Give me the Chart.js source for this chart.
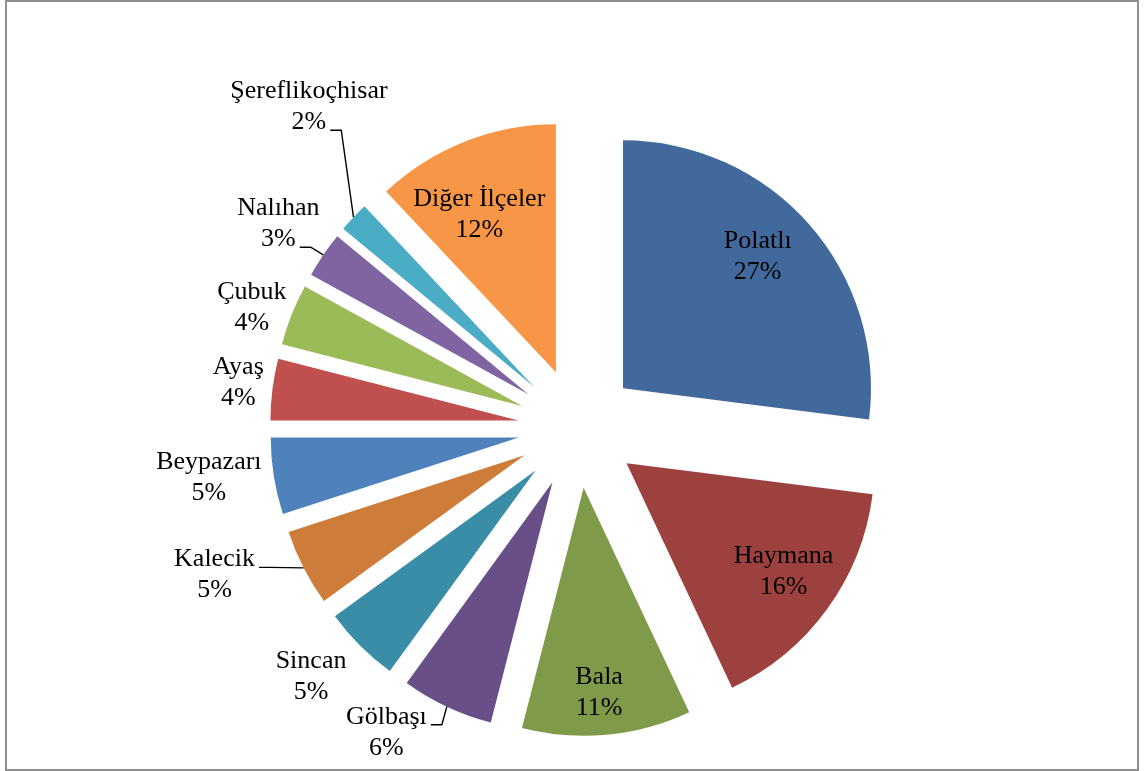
<!DOCTYPE html>
<html>
<head>
<meta charset="utf-8">
<title>İlçelere göre dağılım</title>
<script src="https://cdn.jsdelivr.net/npm/chart.js@4.4.0/dist/chart.umd.min.js"></script>
<style>
  html, body { margin: 0; padding: 0; background: #fff; }
  #frame { position: absolute; left: 5px; top: 0; width: 1134px; height: 771px;
           box-sizing: border-box; border: 2px solid #8e8e8e; }
  #wrap { position: absolute; left: 0; top: 0; width: 1146px; height: 771px; }
</style>
</head>
<body>
<div id="frame"></div>
<div id="wrap"><canvas id="pieChart" width="1146" height="771"></canvas></div>
<script>
const districts = ["Polatlı", "Haymana", "Bala", "Gölbaşı", "Sincan", "Kalecik",
                   "Beypazarı", "Ayaş", "Çubuk", "Nalıhan", "Şereflikoçhisar", "Diğer İlçeler"];
const shares = [27, 16, 11, 6, 5, 5, 5, 4, 4, 3, 2, 12];
const sliceColors = ["#41699C", "#9D413F", "#7F9B4A", "#694F87", "#3A8DA6", "#CE7C39",
                     "#4F81BD", "#C0504D", "#9BBB59", "#8064A2", "#4BACC6", "#F79646"];

// where each label sits: distance from the slice tip (x radius) and a turn in degrees
const labelDist = [0.76, 0.77, 0.83, 1.21, 1.23, 1.34, 1.26, 1.14, 1.16, 1.22, 1.45, 0.705];
const labelTurn = [-3, -1.3, 1.1, 8.4, 2.4, 5.9, 1.6, 0.4, -1.6, 0.1, 8, -4.4];
// which text line the leader line starts from (null = no leader)
const leaderRow = [null, null, null, 0, null, 0, null, null, null, 1, 1, null];

const explodeGap = 60;
const labelFont = '26px "Liberation Serif", "Times New Roman", serif';
const lineH = 31;

// pull every slice outwards along its middle angle
const explode = {
  id: 'explode',
  beforeDatasetDraw(chart, args) {
    const ctx = chart.ctx;
    args.meta.data.forEach(arc => {
      const mid = (arc.startAngle + arc.endAngle) / 2;
      ctx.save();
      ctx.translate(Math.cos(mid) * explodeGap, Math.sin(mid) * explodeGap);
      arc.draw(ctx);
      ctx.restore();
    });
    return false;
  }
};

const sliceLabels = {
  id: 'sliceLabels',
  afterDatasetsDraw(chart) {
    const ctx = chart.ctx;
    const arcs = chart.getDatasetMeta(0).data;
    ctx.save();
    ctx.font = labelFont;
    ctx.fillStyle = '#000';
    ctx.strokeStyle = '#000';
    ctx.lineWidth = 1.4;
    ctx.textAlign = 'center';
    ctx.textBaseline = 'middle';
    arcs.forEach((arc, i) => {
      const mid = (arc.startAngle + arc.endAngle) / 2;
      const r = arc.outerRadius;
      const tipX = arc.x + Math.cos(mid) * explodeGap;
      const tipY = arc.y + Math.sin(mid) * explodeGap;
      const a = mid + labelTurn[i] * Math.PI / 180;
      const cx = tipX + Math.cos(a) * r * labelDist[i];
      const cy = tipY + Math.sin(a) * r * labelDist[i];
      const lines = [districts[i], shares[i] + '%'];
      lines.forEach((t, k) => ctx.fillText(t, cx, cy + (k - 0.5) * lineH));

      const row = leaderRow[i];
      if (row !== null) {
        const w = ctx.measureText(lines[row]).width;
        const sx = cx + w / 2 + 4;
        const sy = cy + (row - 0.5) * lineH + 8;
        const edgeX = tipX + Math.cos(mid) * r;
        const edgeY = tipY + Math.sin(mid) * r;
        ctx.beginPath();
        ctx.moveTo(sx, sy);
        ctx.lineTo(sx + 11, sy);
        ctx.lineTo(edgeX, edgeY);
        ctx.stroke();
      }
    });
    ctx.restore();
  }
};

const canvas = document.querySelector("#pieChart");

new Chart(canvas, {
  type: 'pie',
  data: {
    labels: districts,
    datasets: [{
      data: shares,
      backgroundColor: sliceColors,
      borderWidth: 0
    }]
  },
  options: {
    responsive: false,
    animation: false,
    radius: 248,
    layout: { padding: { left: 10, top: 85, right: 0, bottom: 0 } },
    plugins: {
      legend: { display: false },
      tooltip: { enabled: false }
    }
  },
  plugins: [explode, sliceLabels]
});
</script>
</body>
</html>
